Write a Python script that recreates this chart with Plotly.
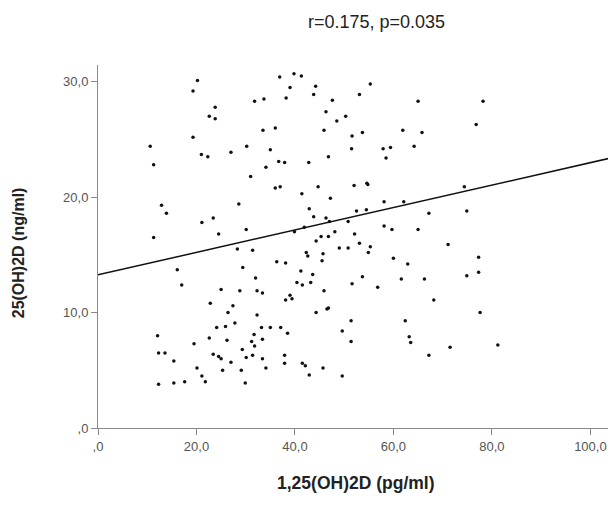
import plotly.graph_objects as go

# 1,25(OH)2D (pg/ml)
x_vals = [
    20.2, 19.3, 23.8, 22.6, 23.8, 31.8, 33.7, 33.5, 19.3, 10.6,
    11.3, 21.0, 22.3, 27.0, 30.2, 34.1, 31.0, 35.0, 36.9, 39.8,
    41.3, 39.0, 44.2, 43.8, 55.3, 53.1, 38.2, 47.6, 65.0, 46.3,
    48.5, 50.3, 36.0, 45.9, 51.6, 53.7, 61.9, 65.8, 51.5, 57.9,
    59.4, 64.2, 58.5, 46.8, 36.7, 37.9, 42.8, 36.0, 37.0, 44.7,
    52.0, 54.6, 54.8, 78.2, 76.8, 74.4, 12.9, 13.9, 11.3, 21.1,
    23.4, 28.6, 24.5, 30.1, 28.3, 31.4, 16.1, 29.4, 17.0, 32.0,
    25.0, 28.8, 32.3, 33.4, 22.8, 27.4, 41.4, 47.2, 58.1, 62.1,
    42.9, 43.8, 46.3, 47.0, 52.5, 54.5, 67.2, 50.8, 39.9, 41.9,
    58.1, 59.7, 65.0, 48.1, 52.1, 45.3, 46.8, 44.3, 53.1, 55.3,
    49.0, 50.8, 42.3, 42.6, 45.7, 54.9, 45.5, 36.3, 38.1, 60.0,
    62.9, 41.2, 43.6, 53.7, 61.6, 66.3, 40.4, 41.5, 43.2, 51.6,
    56.8, 45.9, 39.0, 39.4, 38.1, 46.5, 46.8, 74.9, 71.1, 77.3,
    74.9, 77.3, 68.2, 26.4, 32.3, 27.8, 24.1, 25.9, 33.2, 35.0,
    12.1, 19.5, 22.6, 26.2, 31.7, 31.2, 31.8, 33.4, 12.3, 13.6,
    15.4, 23.4, 24.5, 25.0, 29.3, 30.1, 31.4, 33.4, 20.1, 27.0,
    34.1, 21.1, 25.3, 29.1, 21.8, 12.3, 15.4, 17.6, 29.9, 44.3,
    51.4, 62.4, 37.1, 38.5, 49.6, 51.4, 63.2, 63.5, 37.9, 37.9,
    41.5, 42.1, 42.9, 45.7, 49.6, 67.2, 77.6, 71.5, 81.2,
]

# 25(OH)2D (ng/ml)
y_vals = [
    30.1, 29.2, 27.8, 27.0, 26.8, 28.3, 28.5, 25.8, 25.2, 24.4,
    22.8, 23.7, 23.5, 23.9, 24.4, 22.6, 21.8, 24.1, 30.4, 30.7,
    30.5, 29.5, 29.6, 28.9, 29.8, 28.9, 28.6, 28.4, 28.3, 27.4,
    26.6, 27.0, 26.0, 25.8, 25.3, 25.6, 25.8, 25.6, 24.2, 24.2,
    24.3, 24.4, 23.4, 23.5, 23.1, 23.0, 23.0, 20.8, 20.9, 20.9,
    21.0, 21.2, 21.1, 28.3, 26.3, 20.9, 19.3, 18.6, 16.5, 17.8,
    18.2, 19.4, 16.8, 17.2, 15.5, 15.4, 13.7, 13.9, 12.4, 13.0,
    12.0, 11.9, 11.9, 11.7, 10.8, 10.6, 20.3, 19.9, 19.6, 19.6,
    19.0, 18.3, 18.2, 17.9, 18.8, 18.9, 18.6, 17.9, 17.0, 17.4,
    17.5, 17.2, 17.2, 17.0, 16.8, 16.6, 16.6, 16.2, 16.0, 15.7,
    15.6, 15.6, 15.2, 14.9, 15.1, 15.2, 14.5, 14.4, 14.3, 14.7,
    14.2, 13.6, 13.3, 13.1, 12.9, 12.9, 12.6, 12.4, 12.6, 12.5,
    12.2, 11.9, 11.5, 11.2, 11.1, 10.3, 10.4, 18.8, 15.9, 14.8,
    13.2, 13.5, 11.1, 10.0, 9.8, 9.1, 8.7, 8.8, 8.7, 8.7,
    8.0, 7.3, 7.8, 7.6, 8.1, 7.5, 7.1, 7.7, 6.5, 6.5,
    5.8, 6.4, 6.2, 6.0, 6.8, 6.1, 6.3, 6.0, 5.2, 5.7,
    5.2, 4.5, 5.0, 5.0, 4.0, 3.8, 3.9, 4.0, 3.9, 10.0,
    9.3, 9.3, 8.7, 8.2, 8.4, 7.5, 7.9, 7.4, 6.3, 5.6,
    5.6, 5.4, 4.6, 5.2, 4.5, 6.3, 10.0, 7.0, 7.2,
]

# Fit line
fit_intercept = 13.27
fit_slope = 0.0972

x_range = [0, 105.2]
y_range = [0, 31.45]

x_tickvals = [0, 20, 40, 60, 80, 100]
x_ticktext = [",0", "20,0", "40,0", "60,0", "80,0", "100,0"]
y_tickvals = [0, 10, 20, 30]
y_ticktext = [",0", "10,0", "20,0", "30,0"]

title_text = "r=0.175, p=0.035"
x_title = "1,25(OH)2D (pg/ml)"
y_title = "25(OH)2D (ng/ml)"

FONT = "Liberation Sans, Arial, sans-serif"

fig = go.Figure()

fit_x = [x_range[0], x_range[1]]
fit_y = [fit_intercept + fit_slope * v for v in fit_x]
fig.add_trace(go.Scatter(
    x=fit_x, y=fit_y, mode="lines",
    line=dict(color="#111111", width=1.5),
    hoverinfo="skip", showlegend=False,
))

fig.add_trace(go.Scatter(
    x=x_vals, y=y_vals, mode="markers",
    marker=dict(color="#111111", size=3.5),
    showlegend=False, cliponaxis=False,
))

axis_common = dict(
    showgrid=False, zeroline=False, showline=True,
    linecolor="#8a8a8a", linewidth=1,
    ticks="outside", ticklen=6, tickcolor="#8a8a8a", tickwidth=1,
    tickfont=dict(family=FONT, size=13, color="#555555"),
)

# page body has an 8px default margin, so the figure is 8px smaller
fig.update_layout(
    width=608, height=506,
    margin=dict(l=90, r=0, t=57, b=86),
    paper_bgcolor="white", plot_bgcolor="white",
    font=dict(family=FONT),
    xaxis=dict(range=x_range, tickvals=x_tickvals, ticktext=x_ticktext, **axis_common),
    yaxis=dict(range=y_range, tickvals=y_tickvals, ticktext=y_ticktext, **axis_common),
    annotations=[
        dict(text=title_text, xref="paper", yref="paper", x=0.537, y=1.118,
             xanchor="center", yanchor="middle", showarrow=False,
             font=dict(family=FONT, size=18, color="#222222")),
        dict(text="<b>" + x_title + "</b>", xref="paper", yref="paper", x=0.498, y=-0.1515,
             xanchor="center", yanchor="middle", showarrow=False,
             font=dict(family=FONT, size=17.5, color="#222222")),
        dict(text="<b>" + y_title + "</b>", xref="paper", yref="paper", x=-0.154, y=0.482,
             xanchor="center", yanchor="middle", showarrow=False, textangle=-90,
             font=dict(family=FONT, size=16, color="#222222")),
    ],
)

fig.write_html("out.html")
